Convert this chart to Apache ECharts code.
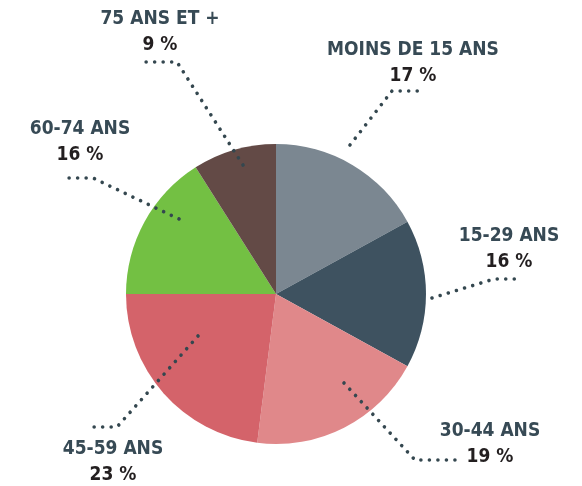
<!DOCTYPE html>
<html><head><meta charset="utf-8">
<script src="https://cdn.jsdelivr.net/npm/echarts@6/dist/echarts.min.js"></script>
<style>html,body{margin:0;padding:0;background:#fff}#c{width:582px;height:486px}</style>
</head><body><div id="c"></div>
<script>
var categories = ['MOINS DE 15 ANS', '15-29 ANS', '30-44 ANS', '45-59 ANS', '60-74 ANS', '75 ANS ET +'];
var values = [17, 16, 19, 23, 16, 9];
var colors = ['#7b8791', '#3e5260', '#e0888a', '#d4636a', '#73c043', '#634a46'];

// label centre positions and leader line points (layout only)
var labelPos = [[413, 63], [509, 249], [490, 444], [113, 462], [80, 142], [160, 32]];
var linePts = [
  [[350, 145], [392, 91], [421, 91]],
  [[432, 298], [494, 279], [519, 279]],
  [[344, 383], [415, 460], [455, 460]],
  [[198, 336], [117, 427], [92, 427]],
  [[179, 219], [93, 178], [67, 178]],
  [[243, 165], [177, 62], [142, 62]]
];

var chart = echarts.init(document.getElementById('c'), null, {renderer: 'canvas'});
var base = {
  type: 'pie',
  center: [276, 294],
  radius: 150,
  startAngle: 90,
  clockwise: true,
  silent: true
};
var font = 'DejaVu Sans Condensed';
chart.setOption({
  animation: false,
  series: [
    Object.assign({}, base, {
      z: 2,
      data: categories.map(function (c, i) {
        return {name: c, value: values[i], itemStyle: {color: colors[i]}};
      }),
      label: {show: false},
      labelLine: {show: false}
    }),
    Object.assign({}, base, {
      z: 5,
      data: categories.map(function (c, i) {
        return {name: c, value: values[i], itemStyle: {color: 'rgba(0,0,0,0)'}};
      }),
      label: {
        show: true,
        position: 'outside',
        overflow: 'none',
        formatter: '{n|{b}}\n{p|{c} %}',
        rich: {
          n: {fontFamily: font, fontWeight: 'bold', fontSize: 19, color: '#374a55', lineHeight: 26, align: 'center'},
          p: {fontFamily: font, fontWeight: 'bold', fontSize: 19, color: '#231f20', lineHeight: 26, align: 'center'}
        }
      },
      labelLine: {
        show: true,
        lineStyle: {color: '#34474f', width: 3.6, type: [0.01, 8.5], cap: 'round'}
      },
      labelLayout: function (params) {
        var i = params.dataIndex;
        return {
          x: labelPos[i][0],
          y: labelPos[i][1],
          align: 'center',
          verticalAlign: 'middle',
          labelLinePoints: linePts[i]
        };
      }
    })
  ]
});
</script></body></html>
